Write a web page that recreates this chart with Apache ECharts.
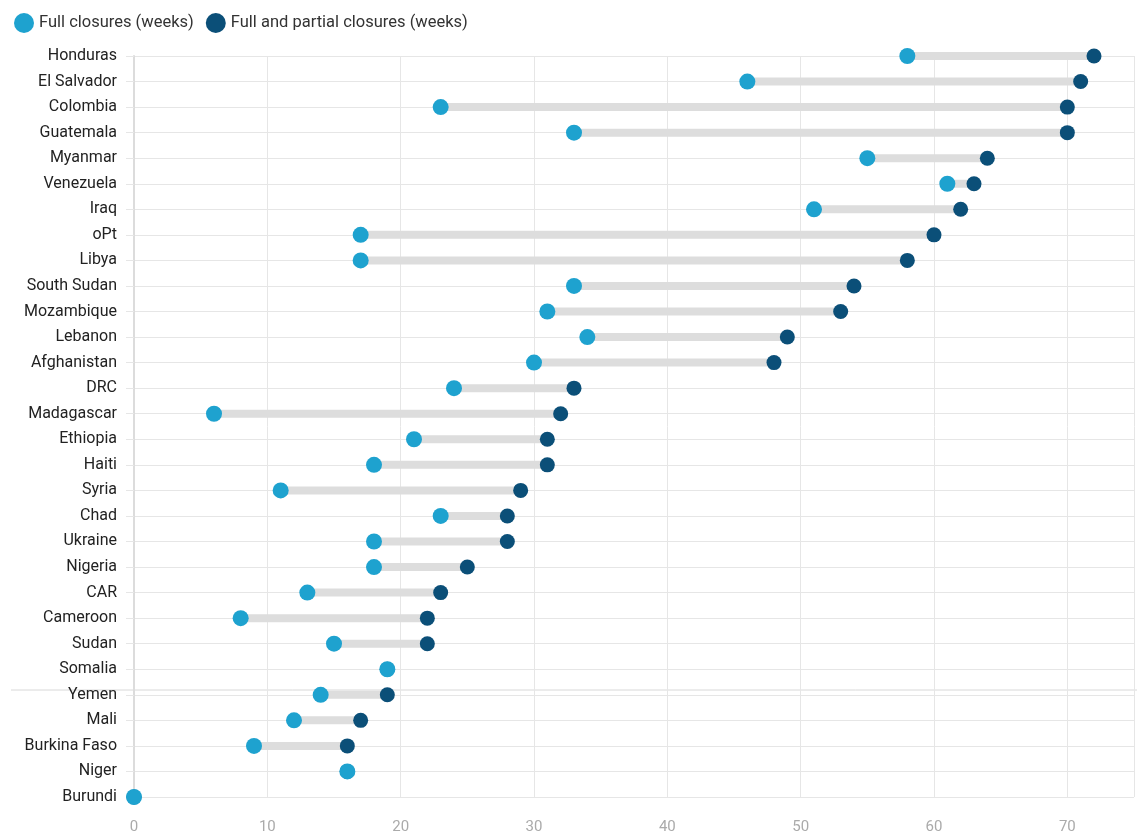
<!DOCTYPE html>
<html><head><meta charset="utf-8">
<script src="https://cdn.jsdelivr.net/npm/echarts@6/dist/echarts.min.js"></script>
<style>html,body{margin:0;padding:0;background:#fff}#c{width:1137px;height:835px}</style>
</head><body><div id="c"></div>
<script>
const categories = ["Honduras","El Salvador","Colombia","Guatemala","Myanmar","Venezuela","Iraq","oPt","Libya","South Sudan","Mozambique","Lebanon","Afghanistan","DRC","Madagascar","Ethiopia","Haiti","Syria","Chad","Ukraine","Nigeria","CAR","Cameroon","Sudan","Somalia","Yemen","Mali","Burkina Faso","Niger","Burundi"];
const fullClosures = [58,46,23,33,55,61,51,17,17,33,31,34,30,24,6,21,18,11,23,18,18,13,8,15,19,14,12,9,16,0];
const fullAndPartial = [72,71,70,70,64,63,62,60,58,54,53,49,48,33,32,31,31,29,28,28,25,23,22,22,19,19,17,16,16,0];
const xTicks = [0,10,20,30,40,50,60,70];

const FONT = 'Roboto, "Noto Sans", sans-serif';
const chart = echarts.init(document.getElementById('c'));
chart.setOption({
  animation: false,
  textStyle: {fontFamily: FONT},
  legend: {
    left: 9, top: 8, itemWidth: 20, itemHeight: 20, itemGap: 12, icon: 'circle',
    textStyle: {fontSize: 16.5, color: '#333', fontFamily: FONT},
    data: ['Full closures (weeks)', 'Full and partial closures (weeks)']
  },
  grid: {left: 134, right: 3, top: 56, bottom: 38, containLabel: false},
  xAxis: {
    type: 'value', min: 0, max: 75, interval: 10,
    axisLine: {show: false}, axisTick: {show: false},
    axisLabel: {color: '#aaa', fontSize: 15, margin: 23, showMaxLabel: false,
      formatter: v => xTicks.includes(v) ? String(v) : ''},
    splitLine: {show: true, lineStyle: {color: '#e6e6e6', width: 1}}
  },
  yAxis: {
    type: 'category', data: categories, inverse: true, boundaryGap: false,
    axisLine: {show: true, lineStyle: {color: '#dcdcdc', width: 2}},
    axisTick: {show: true, length: 8, lineStyle: {color: '#e6e6e6'}},
    axisLabel: {color: '#222', fontSize: 16, margin: 17},
    splitLine: {show: true, lineStyle: {color: '#e6e6e6', width: 1}}
  },
  graphic: [{type: 'line', shape: {x1: 11, y1: 690, x2: 1137, y2: 690}, style: {stroke: '#d8d8d8', lineWidth: 1}, z: 0}],
  series: [
    {
      type: 'custom', z: 1, silent: true,
      data: categories.map((c, i) => [fullClosures[i], fullAndPartial[i], i]),
      encode: {x: [0, 1], y: 2},
      renderItem: function (params, api) {
        const a = api.coord([api.value(0), api.value(2)]);
        const b = api.coord([api.value(1), api.value(2)]);
        return {type: 'line', shape: {x1: a[0], y1: a[1], x2: b[0], y2: b[1]},
          style: {stroke: '#dddddd', lineWidth: 8, lineCap: 'butt'}};
      }
    },
    {
      name: 'Full and partial closures (weeks)', type: 'scatter', z: 2,
      symbolSize: 15, itemStyle: {color: '#0b4f78', opacity: 1},
      data: categories.map((c, i) => [fullAndPartial[i], c])
    },
    {
      name: 'Full closures (weeks)', type: 'scatter', z: 3,
      symbolSize: 16, itemStyle: {color: '#1ea2cf', opacity: 1},
      data: categories.map((c, i) => [fullClosures[i], c])
    }
  ]
});
</script></body></html>
